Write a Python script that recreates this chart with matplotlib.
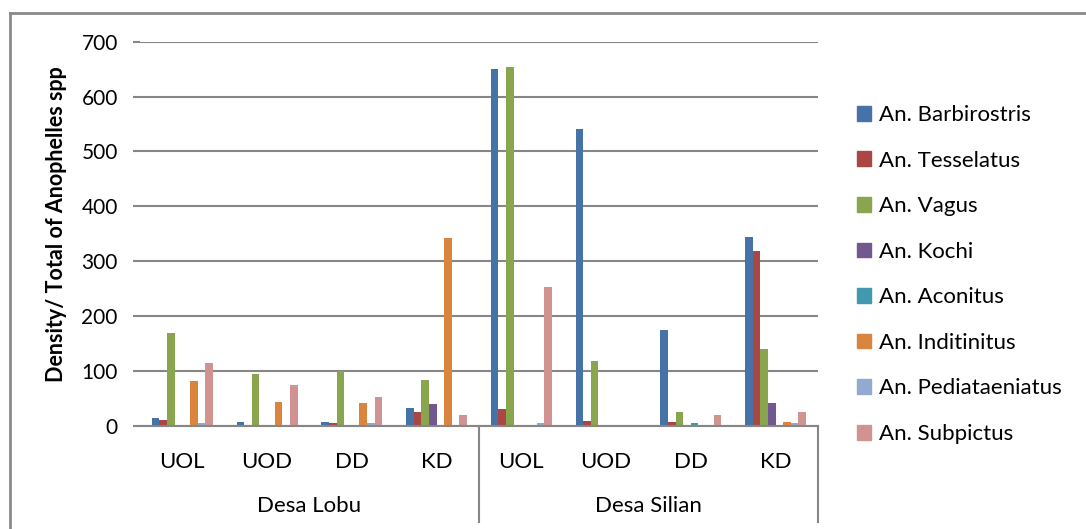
import matplotlib.pyplot as plt
from matplotlib.lines import Line2D
from matplotlib.patches import Patch

plt.rcParams['font.family'] = ['Lato', 'DejaVu Sans']

# Data
villages = ['Desa Lobu', 'Desa Silian']
categories = ['UOL', 'UOD', 'DD', 'KD', 'UOL', 'UOD', 'DD', 'KD']
species = ['An. Barbirostris', 'An. Tesselatus', 'An. Vagus', 'An. Kochi',
           'An. Aconitus', 'An. Inditinitus', 'An. Pediataeniatus', 'An. Subpictus']
barbirostris = [15, 7, 7, 33, 650, 541, 175, 344]
tesselatus = [11, 0, 5, 25, 31, 9, 7, 319]
vagus = [169, 95, 100, 84, 654, 118, 25, 140]
kochi = [0, 0, 2, 40, 0, 0, 2, 42]
aconitus = [0, 0, 0, 0, 0, 0, 5, 0]
inditinitus = [82, 44, 42, 342, 2, 0, 0, 7]
pediataeniatus = [5, 0, 5, 0, 5, 0, 0, 5]
subpictus = [115, 75, 53, 20, 253, 0, 20, 25]

series = [barbirostris, tesselatus, vagus, kochi, aconitus,
          inditinitus, pediataeniatus, subpictus]
colors = ['#4572A7', '#AA4643', '#89A54E', '#71588F',
          '#4198AF', '#DB843D', '#93A9CF', '#D19392']

fig = plt.figure(figsize=(10.86, 5.29), dpi=100)
ax = fig.add_axes([0.1289, 0.1947, 0.6243, 0.7265])

w = 0.09
x = list(range(len(categories)))
for i, (vals, c) in enumerate(zip(series, colors)):
    ax.bar([p + (i - 3.5) * w for p in x], vals, width=w, color=c, label=species[i])

ax.set_xlim(-0.5, 7.5)
ax.set_ylim(0, 700)
ax.set_yticks(range(0, 701, 100))
ax.yaxis.grid(True, color='#868686', linewidth=1.5)
ax.set_axisbelow(True)
for s in ['top', 'right', 'left']:
    ax.spines[s].set_visible(False)
ax.spines['bottom'].set_color('#868686')
ax.spines['bottom'].set_linewidth(1.5)
ax.tick_params(axis='y', length=5, width=1.5, color='#868686', pad=11, labelsize=15)
ax.set_xticks([])
ax.set_ylabel('Density/ Total of Anophelles spp', fontsize=15.5, fontweight='bold')
ax.yaxis.set_label_coords(-0.108, 0.526)

# category and village labels under the axis
xt = ax.get_xaxis_transform()
for p, lab in zip(x, categories):
    ax.text(p, -0.094, lab, transform=xt, ha='center', va='center', fontsize=16)
for j, v in enumerate(villages):
    ax.text(1.5 + 4 * j, -0.208, v, transform=xt, ha='center', va='center', fontsize=16)
for xs in [3.5, 7.5]:
    ax.plot([xs, xs], [0, -0.25], transform=xt, color='#868686', lw=1.5, clip_on=False)

handles = [Patch(color=c) for c in colors]
fig.legend(handles, species, loc='center left', bbox_to_anchor=(0.789, 0.481),
           frameon=False, fontsize=16, handlelength=0.65, handleheight=0.65,
           handletextpad=0.35, labelspacing=1.15, borderpad=0, borderaxespad=0)

# chart border
fig.add_artist(Line2D([0.0092, 0.0092], [0, 0.975], color='#898989', lw=2))
fig.add_artist(Line2D([0.0092, 1.0], [0.975, 0.975], color='#898989', lw=2))

fig.savefig('out.png', dpi=100)
